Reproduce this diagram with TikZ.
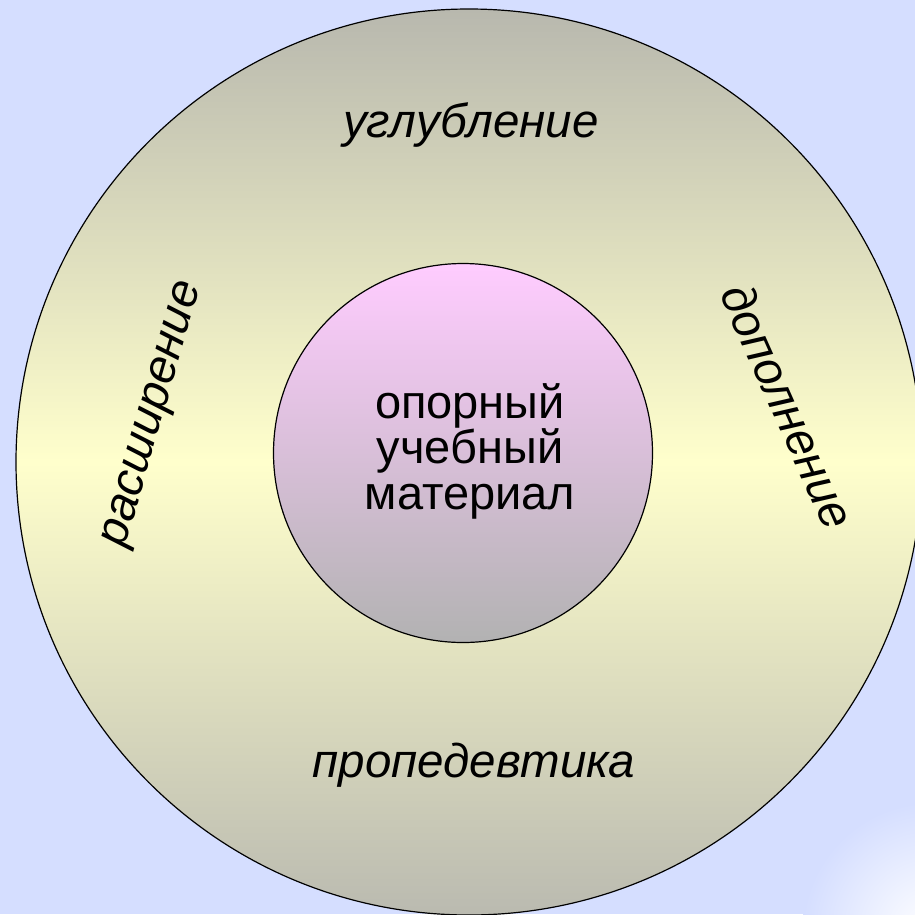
\documentclass[tikz,border=0pt]{standalone}
\usepackage{fontspec}
\setmainfont{Liberation Sans}
\definecolor{bg}{RGB}{213,222,255}
\definecolor{ringtop}{RGB}{184,184,174}
\definecolor{ringmid}{RGB}{255,255,204}
\definecolor{ringbot}{RGB}{186,186,176}
\definecolor{coretop}{RGB}{255,204,255}
\definecolor{corebot}{RGB}{178,178,178}
\tikzset{
  ring/.style={circle, draw=black, line width=1.2pt, inner sep=0pt},
  lab/.style={font=\fontsize{47.5}{52}\selectfont\itshape, inner sep=0pt},
  corelab/.style={font=\fontsize{47}{45.5}\selectfont, align=center, inner sep=0pt}
}
\begin{document}
\begin{tikzpicture}[x=1pt,y=-1pt]
\useasboundingbox (0,0) rectangle (915,914);
\fill[bg] (0,0) rectangle (915,914);
\begin{scope}
  \clip (0,0) rectangle (915,914);
  \shade[inner color=white, outer color=bg] (932,932) circle (130);
  \node (outer) [ring, minimum size=906pt, top color=ringtop, bottom color=ringbot, middle color=ringmid] at (469,462) {};
\end{scope}
\node (core) [ring, minimum size=379pt, top color=coretop, bottom color=corebot] at (463,453) {};
\node (coretext) [corelab] at (470,451) {опорный\\учебный\\материал};
\node (up) [lab, anchor=base] at (471,137) {углубление};
\node (down) [lab, anchor=base] at (474,777) {пропедевтика};
\node (left) [lab, rotate=74] at (155,415) {расширение};
\node (right) [lab, rotate=-66] at (788,406) {дополнение};
\end{tikzpicture}
\end{document}
